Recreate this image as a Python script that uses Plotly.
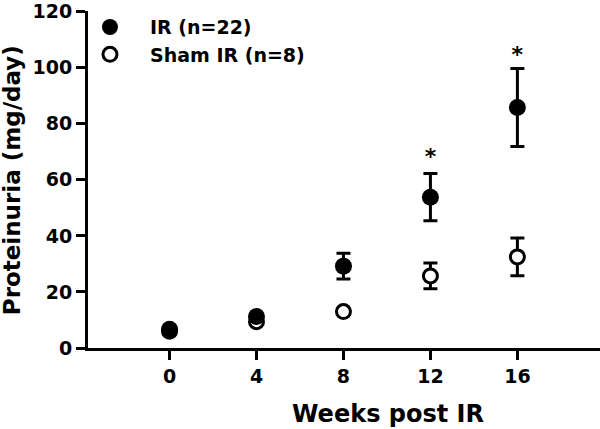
import plotly.graph_objects as go

weeks = [0, 4, 8, 12, 16]
ir_mean = [6.7, 11.2, 29.2, 53.8, 85.8]
ir_err = [0.0, 0.0, 4.6, 8.4, 13.9]
sham_mean = [6.0, 9.4, 13.0, 25.7, 32.5]
sham_err = [0.0, 0.0, 0.0, 4.6, 6.7]
sig_weeks = [12, 16]
sig_y = [67.5, 104]
x_ticks = [0, 4, 8, 12, 16]
y_ticks = [0, 20, 40, 60, 80, 100, 120]

FONT = "DejaVu Sans"
fig = go.Figure()
fig.add_trace(go.Scatter(
    x=weeks, y=sham_mean, mode="markers", name="Sham IR (n=8)", legend="legend2",
    marker=dict(symbol="circle", size=14, color="white", line=dict(width=3, color="black")),
    error_y=dict(type="data", array=sham_err, visible=True, color="black", thickness=3, width=7),
))
fig.add_trace(go.Scatter(
    x=weeks, y=ir_mean, mode="markers", name="IR (n=22)", legend="legend",
    marker=dict(symbol="circle", size=17, color="black", line=dict(width=0)),
    error_y=dict(type="data", array=ir_err, visible=True, color="black", thickness=3, width=7),
))
fig.add_trace(go.Scatter(
    x=sig_weeks, y=sig_y, mode="text", text=["*"] * len(sig_weeks), showlegend=False,
    textfont=dict(family=FONT, size=22, color="black"),
))

legend_common = dict(x=-0.0352, xanchor="left", yanchor="middle", bgcolor="rgba(0,0,0,0)",
                     font=dict(family=FONT, size=19, color="black", weight="bold"),
                     itemwidth=70, borderwidth=0)

fig.update_layout(
    width=600, height=429,
    margin=dict(l=88, r=0, t=11, b=81),
    plot_bgcolor="white", paper_bgcolor="white",
    font=dict(family=FONT, size=19, color="black", weight="bold"),
    showlegend=True,
    legend=dict(y=0.952, **legend_common),
    legend2=dict(y=0.871, **legend_common),
    xaxis=dict(range=[-3.75, 19.8], tickvals=x_ticks, showgrid=False, zeroline=False,
               showline=True, linecolor="black", linewidth=3, ticks="outside", ticklen=9,
               tickwidth=3, tickcolor="black", ticklabeloverflow="allow"),
    yaxis=dict(range=[0, 120.2], tickvals=y_ticks, showgrid=False, zeroline=False,
               showline=True, linecolor="black", linewidth=3, ticks="outside", ticklen=9,
               tickwidth=3, tickcolor="black", ticklabeloverflow="allow"),
    annotations=[
        dict(text="Weeks post IR", xref="paper", yref="paper", x=0.586, y=-0.196,
             xanchor="center", yanchor="middle", showarrow=False,
             font=dict(family=FONT, size=24, color="black", weight="bold")),
        dict(text="Proteinuria (mg/day)", xref="paper", yref="paper", x=-0.148, y=0.4985,
             xanchor="center", yanchor="middle", showarrow=False, textangle=-90,
             font=dict(family=FONT, size=23, color="black", weight="bold")),
    ],
)
fig.write_html("out.html", config={"displayModeBar": False},
               post_script="document.body.style.margin='0';")
